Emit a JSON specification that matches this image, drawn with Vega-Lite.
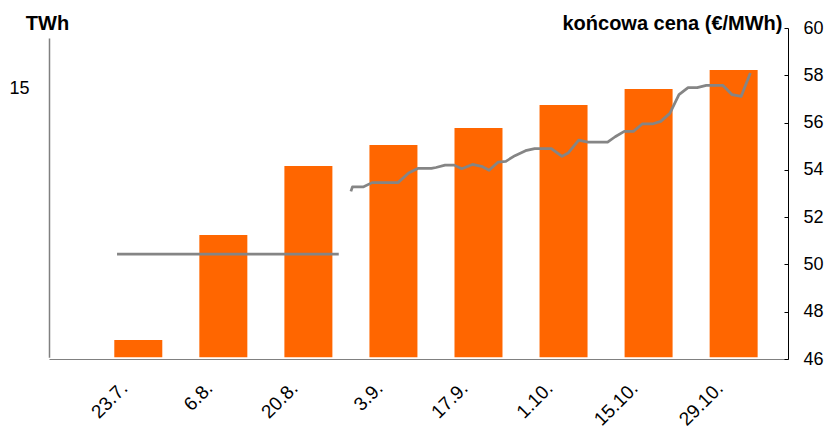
{
  "$schema": "https://vega.github.io/schema/vega-lite/v6.json",
  "width": 739,
  "height": 331,
  "autosize": {"type": "none"},
  "padding": {"left": 49, "top": 28, "right": 40, "bottom": 70},
  "background": "white",
  "config": {
    "view": {"stroke": null},
    "font": "Liberation Sans",
    "axis": {
      "labelFont": "Liberation Sans",
      "titleFont": "Liberation Sans",
      "labelColor": "#000000",
      "titleColor": "#000000",
      "labelFontSize": 18,
      "grid": false
    },
    "axisX": {
      "title": null,
      "format": "%-d.%-m.",
      "formatType": "utc",
      "labelFontSize": 19,
      "labelAngle": -45,
      "labelAlign": "right",
      "labelBaseline": "alphabetic",
      "labelPadding": 30,
      "labelOffset": -10,
      "ticks": false,
      "tickSize": 0,
      "domainColor": "#808080",
      "domainWidth": 1,
      "labelOverlap": false
    }
  },
  "layer": [
    {
      "layer": [
        {
          "data": {
            "values": [
              {"datum": "2012-07-23T00:00:00Z", "twh": 0.96},
              {"datum": "2012-08-06T00:00:00Z", "twh": 6.82},
              {"datum": "2012-08-20T00:00:00Z", "twh": 10.67},
              {"datum": "2012-09-03T00:00:00Z", "twh": 11.84},
              {"datum": "2012-09-17T00:00:00Z", "twh": 12.79},
              {"datum": "2012-10-01T00:00:00Z", "twh": 14.07},
              {"datum": "2012-10-15T00:00:00Z", "twh": 14.96},
              {"datum": "2012-10-29T00:00:00Z", "twh": 16.02}
            ]
          },
          "mark": {"type": "bar", "color": "#FF6600", "size": 48},
          "encoding": {
            "x": {
              "field": "datum",
              "type": "temporal",
              "scale": {
                "type": "utc",
                "domain": [
                  {"year": 2012, "month": 7, "date": 9, "hours": 3, "utc": true},
                  {"year": 2012, "month": 11, "date": 6, "hours": 3, "utc": true}
                ]
              },
              "axis": {
                "values": [
                  {"year": 2012, "month": 7, "date": 23, "utc": true},
                  {"year": 2012, "month": 8, "date": 6, "utc": true},
                  {"year": 2012, "month": 8, "date": 20, "utc": true},
                  {"year": 2012, "month": 9, "date": 3, "utc": true},
                  {"year": 2012, "month": 9, "date": 17, "utc": true},
                  {"year": 2012, "month": 10, "date": 1, "utc": true},
                  {"year": 2012, "month": 10, "date": 15, "utc": true},
                  {"year": 2012, "month": 10, "date": 29, "utc": true}
                ],
                "format": "%-d.%-m.",
                "formatType": "utc"
              }
            },
            "y": {
              "field": "twh",
              "type": "quantitative",
              "scale": {"domain": [0, 17.81], "range": [329.3, 10], "nice": false, "zero": false},
              "axis": {
                "title": "TWh",
                "titleAngle": 0,
                "titleFontSize": 20,
                "titleFontWeight": "bold",
                "titleAlign": "center",
                "titleBaseline": "alphabetic",
                "titleX": -2,
                "titleY": 1,
                "values": [15],
                "ticks": false,
                "labelPadding": 20,
                "domainColor": "#808080",
                "domainWidth": 1.5
              }
            }
          }
        },
        {
          "mark": {"type": "rule", "color": "#404040", "strokeWidth": 1},
          "encoding": {"y": {"datum": 0, "type": "quantitative"}}
        }
      ]
    },
    {
      "data": {
        "values": [
          {"datum": "2012-07-19T12:00:00Z", "cena": 50.44, "rada": "a"},
          {"datum": "2012-08-25T00:00:00Z", "cena": 50.44, "rada": "a"},
          {"datum": "2012-08-27T00:00:00Z", "cena": 53.09, "rada": "b"},
          {"datum": "2012-08-27T06:00:00Z", "cena": 53.28, "rada": "b"},
          {"datum": "2012-08-29T00:00:00Z", "cena": 53.28, "rada": "b"},
          {"datum": "2012-08-30T12:00:00Z", "cena": 53.46, "rada": "b"},
          {"datum": "2012-09-03T18:00:00Z", "cena": 53.46, "rada": "b"},
          {"datum": "2012-09-05T12:00:00Z", "cena": 53.87, "rada": "b"},
          {"datum": "2012-09-07T00:00:00Z", "cena": 54.06, "rada": "b"},
          {"datum": "2012-09-09T06:00:00Z", "cena": 54.06, "rada": "b"},
          {"datum": "2012-09-10T00:00:00Z", "cena": 54.10, "rada": "b"},
          {"datum": "2012-09-11T12:00:00Z", "cena": 54.20, "rada": "b"},
          {"datum": "2012-09-13T00:00:00Z", "cena": 54.20, "rada": "b"},
          {"datum": "2012-09-14T06:00:00Z", "cena": 54.05, "rada": "b"},
          {"datum": "2012-09-16T00:00:00Z", "cena": 54.23, "rada": "b"},
          {"datum": "2012-09-17T12:00:00Z", "cena": 54.15, "rada": "b"},
          {"datum": "2012-09-18T18:00:00Z", "cena": 53.98, "rada": "b"},
          {"datum": "2012-09-20T06:00:00Z", "cena": 54.33, "rada": "b"},
          {"datum": "2012-09-21T12:00:00Z", "cena": 54.36, "rada": "b"},
          {"datum": "2012-09-23T00:00:00Z", "cena": 54.60, "rada": "b"},
          {"datum": "2012-09-24T18:00:00Z", "cena": 54.81, "rada": "b"},
          {"datum": "2012-09-26T06:00:00Z", "cena": 54.90, "rada": "b"},
          {"datum": "2012-09-29T00:00:00Z", "cena": 54.90, "rada": "b"},
          {"datum": "2012-09-30T18:00:00Z", "cena": 54.57, "rada": "b"},
          {"datum": "2012-10-01T18:00:00Z", "cena": 54.71, "rada": "b"},
          {"datum": "2012-10-03T12:00:00Z", "cena": 55.26, "rada": "b"},
          {"datum": "2012-10-05T00:00:00Z", "cena": 55.17, "rada": "b"},
          {"datum": "2012-10-08T06:00:00Z", "cena": 55.17, "rada": "b"},
          {"datum": "2012-10-09T12:00:00Z", "cena": 55.40, "rada": "b"},
          {"datum": "2012-10-11T00:00:00Z", "cena": 55.63, "rada": "b"},
          {"datum": "2012-10-12T12:00:00Z", "cena": 55.63, "rada": "b"},
          {"datum": "2012-10-14T00:00:00Z", "cena": 55.95, "rada": "b"},
          {"datum": "2012-10-15T18:00:00Z", "cena": 55.95, "rada": "b"},
          {"datum": "2012-10-17T00:00:00Z", "cena": 56.05, "rada": "b"},
          {"datum": "2012-10-18T12:00:00Z", "cena": 56.39, "rada": "b"},
          {"datum": "2012-10-20T00:00:00Z", "cena": 57.18, "rada": "b"},
          {"datum": "2012-10-21T12:00:00Z", "cena": 57.48, "rada": "b"},
          {"datum": "2012-10-23T00:00:00Z", "cena": 57.48, "rada": "b"},
          {"datum": "2012-10-24T12:00:00Z", "cena": 57.57, "rada": "b"},
          {"datum": "2012-10-27T06:00:00Z", "cena": 57.57, "rada": "b"},
          {"datum": "2012-10-28T18:00:00Z", "cena": 57.18, "rada": "b"},
          {"datum": "2012-10-30T06:00:00Z", "cena": 57.11, "rada": "b"},
          {"datum": "2012-10-31T18:00:00Z", "cena": 58.10, "rada": "b"}
        ]
      },
      "mark": {"type": "line", "color": "#858585", "strokeWidth": 2.75, "strokeJoin": "round"},
      "encoding": {
        "x": {
          "field": "datum",
          "type": "temporal",
          "axis": {
            "values": [
              {"year": 2012, "month": 7, "date": 23, "utc": true},
              {"year": 2012, "month": 8, "date": 6, "utc": true},
              {"year": 2012, "month": 8, "date": 20, "utc": true},
              {"year": 2012, "month": 9, "date": 3, "utc": true},
              {"year": 2012, "month": 9, "date": 17, "utc": true},
              {"year": 2012, "month": 10, "date": 1, "utc": true},
              {"year": 2012, "month": 10, "date": 15, "utc": true},
              {"year": 2012, "month": 10, "date": 29, "utc": true}
            ],
            "format": "%-d.%-m.",
            "formatType": "utc"
          }
        },
        "y": {
          "field": "cena",
          "type": "quantitative",
          "scale": {"domain": [46, 60], "nice": false, "zero": false},
          "axis": {
            "orient": "right",
            "title": "końcowa cena (€/MWh)",
            "titleAngle": 0,
            "titleFontSize": 20,
            "titleFontWeight": "bold",
            "titleAlign": "right",
            "titleBaseline": "alphabetic",
            "titleX": -6,
            "titleY": 1,
            "values": [46, 48, 50, 52, 54, 56, 58, 60],
            "tickSize": -4,
            "tickColor": "#000000",
            "labelPadding": 19,
            "domainColor": "#000000",
            "domainWidth": 1
          }
        },
        "detail": {"field": "rada", "type": "nominal"}
      }
    }
  ],
  "resolve": {"scale": {"y": "independent"}, "axis": {"y": "independent"}}
}
